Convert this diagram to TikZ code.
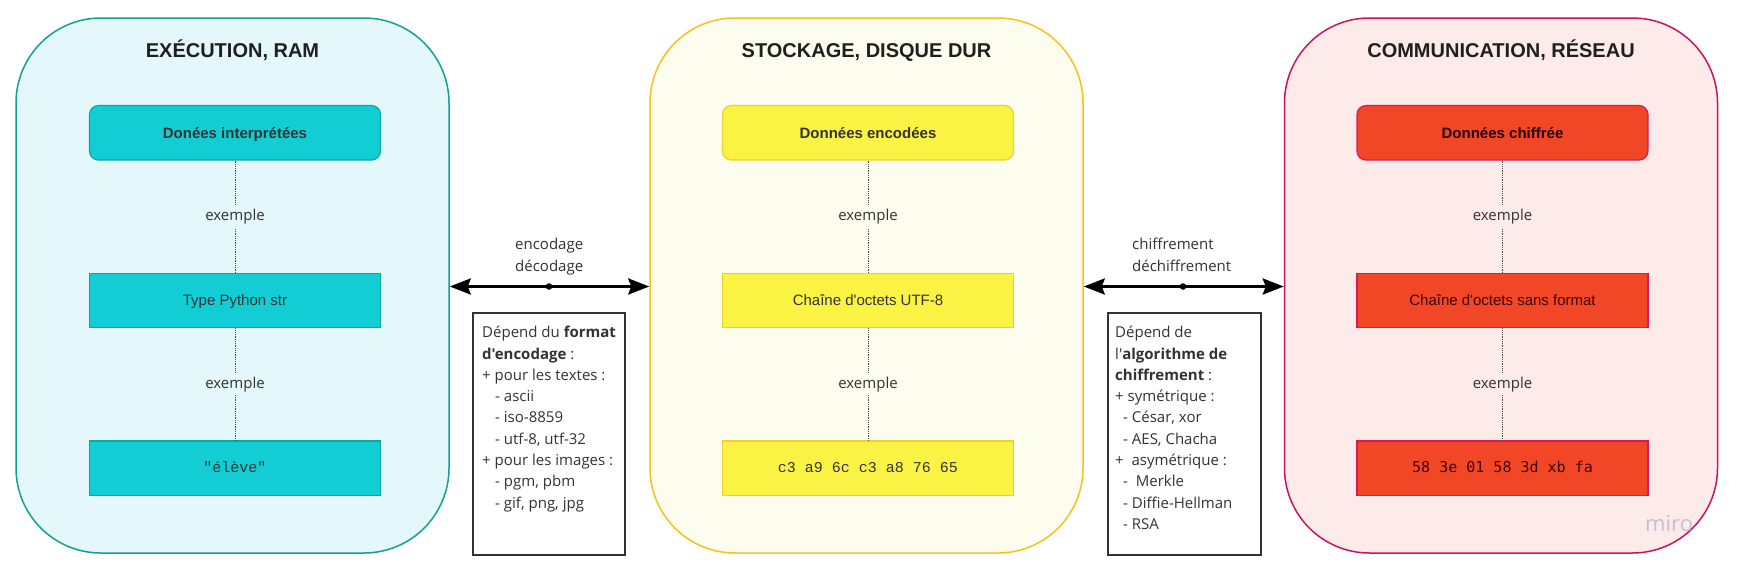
\documentclass[tikz,border=0pt]{standalone}
\usepackage{fontspec}
\setmainfont{Open Sans}[Ligatures=TeXOff]
\newfontfamily\arialf{Liberation Sans}
\newfontfamily\courf{Liberation Mono}
\newfontfamily\dvmono{DejaVu Sans Mono}
\usetikzlibrary{arrows.meta}
\definecolor{cyanbg}{HTML}{E4F8FB}
\definecolor{cyanbd}{HTML}{13A08C}
\definecolor{cyanbox}{HTML}{12CDD4}
\definecolor{cyanboxbd}{HTML}{0FA79A}
\definecolor{yelbg}{HTML}{FCFDEE}
\definecolor{yelbd}{HTML}{F2C31C}
\definecolor{yelbox}{HTML}{FAF344}
\definecolor{yelboxbd}{HTML}{EFCF2C}
\definecolor{redbg}{HTML}{FDEBEA}
\definecolor{redbd}{HTML}{C9135F}
\definecolor{redbox}{HTML}{F24726}
\definecolor{redboxbd}{HTML}{D8185E}
\definecolor{txt}{HTML}{333333}
\definecolor{titlec}{HTML}{1F1F1F}
\definecolor{mirogray}{HTML}{C3C1D3}
\begin{document}
\begin{tikzpicture}[x=1pt,y=-1pt,
  container/.style={draw, line width=1.5pt, rounded corners=85pt, minimum width=433pt, minimum height=535pt, inner sep=0pt},
  title/.style={anchor=base, font=\arialf\bfseries\fontsize{20}{20}\selectfont, text=titlec},
  databox/.style={line width=1.2pt, minimum width=291pt, minimum height=54.5pt, inner sep=0pt, text height=10.7pt, text depth=0pt, text=txt},
  headbox/.style={databox, rounded corners=9pt, font=\arialf\bfseries\fontsize{15}{15}\selectfont},
  plainbox/.style={databox, font=\arialf\fontsize{15}{15}\selectfont},
  monobox/.style={databox, font=\courf\fontsize{15}{15}\selectfont, text height=8.5pt},
  dotline/.style={densely dotted, line width=0.8pt, draw=txt!90},
  lab/.style={font=\fontsize{15}{15}\selectfont, text=txt, inner xsep=2pt, inner ysep=7pt, text height=8pt, text depth=0pt},
  dblarrow/.style={line width=3pt, {Stealth[length=21pt,width=16pt,inset=3pt]}-{Stealth[length=21pt,width=16pt,inset=3pt]}},
  notebox/.style={draw=txt, line width=1.5pt, fill=white, minimum width=152pt, minimum height=242pt, inner sep=0pt},
  notetext/.style={anchor=north west, inner sep=0pt, align=left, font=\fontsize{15}{21.3}\selectfont, text=txt},
  arrlab/.style={anchor=north west, inner sep=0pt, align=left, font=\fontsize{15}{21.5}\selectfont, text=txt}
]
\useasboundingbox[fill=white] (0,0) rectangle (1740,574);

% containers
\node[container, fill=cyanbg, draw=cyanbd] (c1) at (232.5,285.5) {};
\node[container, fill=yelbg, draw=yelbd] (c2) at (866.5,285.5) {};
\node[container, fill=redbg, draw=redbd] (c3) at (1501,285.5) {};

% titles
\node[title] (t1) at (232.5,57) {EXÉCUTION, RAM};
\node[title] (t2) at (866.5,57) {STOCKAGE, DISQUE DUR};
\node[title] (t3) at (1501,57) {COMMUNICATION, RÉSEAU};

% column 1
\node[headbox, fill=cyanbox, draw=cyanboxbd] (a1) at (235,132.8) {Donées interprétées};
\node[plainbox, fill=cyanbox, draw=cyanboxbd] (a2) at (235,300.5) {Type Python str};
\node[monobox, fill=cyanbox, draw=cyanboxbd] (a3) at (235,468.3) {"élève"};
\draw[dotline] (a1) -- node[lab, fill=cyanbg] (la1) {exemple} (a2);
\draw[dotline] (a2) -- node[lab, fill=cyanbg] (la2) {exemple} (a3);

% column 2
\node[headbox, fill=yelbox, draw=yelboxbd] (b1) at (868,132.8) {Données encodées};
\node[plainbox, fill=yelbox, draw=yelboxbd] (b2) at (868,300.5) {Chaîne d'octets UTF-8};
\node[monobox, fill=yelbox, draw=yelboxbd] (b3) at (868,468.3) {c3 a9 6c c3 a8 76 65};
\draw[dotline] (b1) -- node[lab, fill=yelbg] (lb1) {exemple} (b2);
\draw[dotline] (b2) -- node[lab, fill=yelbg] (lb2) {exemple} (b3);

% column 3
\node[headbox, fill=redbox, draw=redboxbd, text=black!85!red] (r1) at (1502.5,132.8) {Données chiffrée};
\node[plainbox, fill=redbox, draw=redboxbd, text=black!75!red] (r2) at (1502.5,300.5) {Chaîne d'octets sans format};
\node[monobox, fill=redbox, draw=redboxbd, font=\dvmono\fontsize{15}{15}\selectfont, text=black!75!red] (r3) at (1502.5,468.3) {58 3e 01 58 3d xb fa};
\draw[dotline] (r1) -- node[lab, fill=redbg] (lr1) {exemple} (r2);
\draw[dotline] (r2) -- node[lab, fill=redbg] (lr2) {exemple} (r3);

% arrows
\coordinate (d1) at (549,286.5);
\coordinate (d2) at (1183,286.5);
\draw[dblarrow] (c1.east |- d1) -- (c2.west |- d1);
\draw[dblarrow] (c2.east |- d2) -- (c3.west |- d2);
\fill (d1) circle (3.3pt);
\fill (d2) circle (3.3pt);
\node[arrlab] (al1) at (515,238) {encodage\\décodage};
\node[arrlab] (al2) at (1132,238) {chiffrement\\déchiffrement};

% notes
\node[notebox] (n1) at (549,434) {};
\node[notetext] (nt1) at (482,326) {Dépend du \textbf{format}\\
\textbf{d'encodage} :\\
+ pour les textes :\\
\hspace*{13pt}- ascii\\
\hspace*{13pt}- iso-8859\\
\hspace*{13pt}- utf-8, utf-32\\
+ pour les images :\\
\hspace*{13pt}- pgm, pbm\\
\hspace*{13pt}- gif, png, jpg};

\node[notebox, minimum width=153pt] (n2) at (1184.5,434) {};
\node[notetext] (nt2) at (1115,326) {Dépend de\\
l'\textbf{algorithme de}\\
\textbf{chiffrement} :\\
+ symétrique :\\
\hspace*{8pt}- César, xor\\
\hspace*{8pt}- AES, Chacha\\
+\ \ asymétrique :\\
\hspace*{8pt}-\ \ Merkle\\
\hspace*{8pt}- Diffie-Hellman\\
\hspace*{8pt}- RSA};

% watermark
\node[anchor=base west, inner sep=0pt, font=\fontsize{22}{22}\selectfont, text=mirogray] (miro) at (1645,531) {miro};
\end{tikzpicture}
\end{document}
